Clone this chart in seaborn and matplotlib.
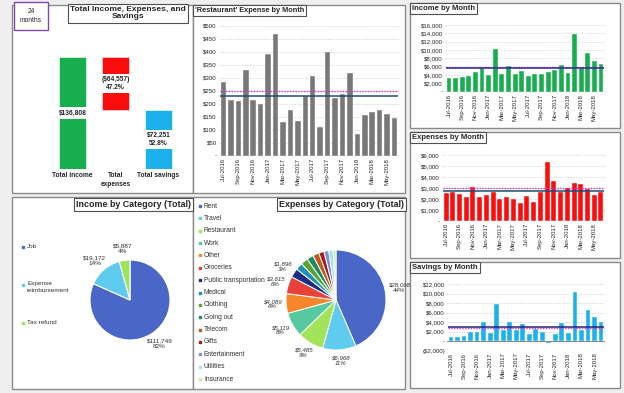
import numpy as np
import pandas as pd
import matplotlib
matplotlib.use("Agg")
import matplotlib.pyplot as plt
from matplotlib.patches import Rectangle
from matplotlib.lines import Line2D
import seaborn as sns

# ---------------- data ----------------
months = ["Jul-2016", "Aug-2016", "Sep-2016", "Oct-2016", "Nov-2016", "Dec-2016",
          "Jan-2017", "Feb-2017", "Mar-2017", "Apr-2017", "May-2017", "Jun-2017",
          "Jul-2017", "Aug-2017", "Sep-2017", "Oct-2017", "Nov-2017", "Dec-2017",
          "Jan-2018", "Feb-2018", "Mar-2018", "Apr-2018", "May-2018", "Jun-2018"]

restaurant = [285, 213, 210, 330, 215, 200, 390, 468, 130, 175, 133, 230,
              305, 112, 398, 222, 237, 318, 85, 155, 168, 175, 162, 145]
income = [3250, 3300, 3450, 3850, 4750, 5800, 3900, 10200, 4350, 6200, 4250, 5050,
          3750, 4200, 4300, 4800, 5100, 6450, 4600, 13850, 5800, 9350, 7400, 6550]
expenses = [2550, 2600, 2450, 2150, 3050, 2150, 2400, 2600, 2000, 2150, 2000, 1650,
            2270, 1700, 2600, 5330, 3670, 2600, 3030, 3480, 3330, 2880, 2360, 2640]
savings = [850, 850, 1100, 1800, 1800, 4000, 1700, 7700, 2300, 4100, 2250, 3500,
           1500, 2500, 1900, -350, 1500, 3800, 1600, 10400, 2300, 6600, 5150, 3950]

avg_restaurant, budget_restaurant = 228, 250
avg_income, budget_income = 5700, 5850
avg_expenses, budget_expenses = 2690, 3000
avg_savings, budget_savings = 3010, 2800

total_labels = ["Total income", "Total\nexpenses", "Total savings"]
total_income, total_expenses, total_savings = 136808, 64557, 72251

income_cats = ["Job", "Expense\nreimbursement", "Tax refund"]
income_vals = [111749, 19172, 5887]
income_pct = ["82%", "14%", "4%"]

exp_cats = ["Rent", "Travel", "Restaurant", "Work", "Other", "Groceries",
            "Public transportation", "Medical", "Clothing", "Going out", "Telecom",
            "Gifts", "Entertainment", "Utilities", "Insurance"]
exp_vals = [28068, 6968, 5485, 5119, 4089, 3615, 1896, 1500, 1500, 1400, 1300,
            1100, 1000, 900, 600]
exp_pct = ["44%", "11%", "9%", "8%", "6%", "6%", "3%"]

# ---------------- style ----------------
sns.set_theme(style="white")
plt.rcParams["font.family"] = ["Liberation Sans", "DejaVu Sans"]

W, H = 624, 393
fig = plt.figure(figsize=(W / 100, H / 100), dpi=100)
fig.patch.set_facecolor("#efefef")


def px(x0, y0, x1, y1):
    return [x0 / W, 1 - y1 / H, (x1 - x0) / W, (y1 - y0) / H]


def fx(x):
    return x / W


def fy(y):
    return 1 - y / H


panels = {}
for key, (x0, y0, x1, y1) in {
    "tot": (12, 5, 193, 193), "rest": (193, 5, 405, 193),
    "inc": (410, 3, 620, 128), "exp": (410, 132, 620, 258),
    "sav": (410, 262, 620, 388), "icat": (12, 197, 193, 389),
    "ecat": (193, 197, 405, 389)}.items():
    r = Rectangle((fx(x0), fy(y1)), (x1 - x0) / W, (y1 - y0) / H,
                  transform=fig.transFigure, fc="white", ec="#8a8a8a", lw=1.0,
                  zorder=-5)
    fig.patches.append(r)
    panels[key] = r


def title_box(x, y, text, size, ha="left"):
    fig.text(fx(x), fy(y), text, fontsize=size, fontweight="bold", ha=ha, va="top",
             linespacing=1.1, zorder=10,
             bbox=dict(boxstyle="square,pad=0.25", fc="white", ec="#505050", lw=0.8))


def money(v):
    if v == 0:
        return "-"
    if v < 0:
        return f"(${-v:,.0f})"
    return f"${v:,.0f}"


def month_bars(rect, values, color, ylim, yticks, avg, budget, avg_color):
    ax = fig.add_axes(px(*rect))
    df = pd.DataFrame({"month": months, "value": values})
    sns.barplot(data=df, x="month", y="value", color=color, saturation=1,
                width=0.74, edgecolor="white", linewidth=0.3, ax=ax, zorder=2)
    ax.set_facecolor("none")
    ax.set_ylim(*ylim)
    ax.set_xlim(-0.6, 23.6)
    ax.set_yticks(yticks)
    ax.set_yticklabels([money(v) for v in yticks], fontsize=4.4)
    ax.set_xticks(range(0, 24, 2))
    ax.set_xticklabels(months[::2], rotation=90, fontsize=4.3)
    ax.tick_params(length=0, pad=1.5)
    ax.set_xlabel("")
    ax.set_ylabel("")
    for s in ax.spines.values():
        s.set_visible(False)
    for t in yticks:
        if t != 0:
            ax.axhline(t, color="#c8c8c8", lw=0.5, ls=(0, (2, 2)), zorder=1)
    ax.axhline(0, color="#8a8a8a", lw=0.8, zorder=3)
    ax.hlines(budget, -0.45, 23.45, color="#cc33cc", lw=1.0, ls=(0, (1, 1)), zorder=4)
    ax.hlines(avg, -0.45, 23.45, color=avg_color, lw=1.1, zorder=5)
    return ax


# ---------------- totals panel ----------------
ax = fig.add_axes(px(51, 38, 180, 169))
df_tot = pd.DataFrame({"label": total_labels,
                       "value": [total_income, total_expenses, total_savings]})
bottoms = [0, total_income - total_expenses, 0]
ax.bar(range(3), df_tot["value"], bottom=bottoms, width=0.63,
       color=["#17ae4f", "#fb0d0d", "#1cb1ec"], edgecolor="white", lw=0.4)
ax.set_xlim(-0.5, 2.5)
ax.set_ylim(0, 160000)
ax.set_facecolor("none")
for s in ax.spines.values():
    s.set_visible(False)
ax.axhline(0, color="#d0d0d0", lw=0.8)
ax.set_yticks([])
ax.set_xticks(range(3))
ax.set_xticklabels(total_labels, fontsize=4.8, fontweight="bold", linespacing=1.3)
ax.tick_params(length=0, pad=2.5)
lab_box = dict(boxstyle="square,pad=0.35", fc="white", ec="none")
ax.text(0, total_income / 2, money(total_income), ha="center", va="center",
        fontsize=4.8, fontweight="bold", bbox=lab_box)
ax.text(1, total_income - total_expenses / 2,
        f"({money(total_expenses)})\n{total_expenses / total_income * 100:.1f}%",
        ha="center", va="center", fontsize=4.8, fontweight="bold", bbox=lab_box,
        linespacing=1.1)
ax.text(2, total_savings / 2,
        f"{money(total_savings)}\n{total_savings / total_income * 100:.1f}%",
        ha="center", va="center", fontsize=4.8, fontweight="bold", bbox=lab_box,
        linespacing=1.1)

fig.text(fx(31), fy(16), "24\nmonths", fontsize=4.8, ha="center", va="center",
         linespacing=1.3,
         bbox=dict(boxstyle="square,pad=0.9", fc="white", ec="#7a4aa8", lw=1.0))
title_box(128, 6, "Total Income, Expenses, and\nSavings", 6.0, ha="center")

# ---------------- monthly bar charts ----------------
month_bars((219, 25.7, 399, 155.7), restaurant, "#787878", (0, 500),
           list(range(0, 501, 50)), avg_restaurant, budget_restaurant, "#1f4e6e")
title_box(195, 7, "'Restaurant' Expense by Month", 5.3)

month_bars((445, 25, 605, 91.7), income, "#17ae4f", (0, 16000),
           list(range(0, 16001, 2000)), avg_income, budget_income, "#2e2a9a")
title_box(412, 5, "Income by Month", 5.5)

month_bars((442, 155, 605, 221), expenses, "#fb0d0d", (0, 6000),
           list(range(0, 6001, 1000)), avg_expenses, budget_expenses, "#1f4e6e")
title_box(412, 134, "Expenses by Month", 5.5)

month_bars((447, 284, 605, 350.5), savings, "#1cb1ec", (-2000, 12000),
           list(range(-2000, 12001, 2000)), avg_savings, budget_savings, "#2e1f7a")
title_box(412, 264, "Savings by Month", 5.5)

# ---------------- income pie ----------------
inc_colors = ["#4a66c6", "#5ecbef", "#9ee35a"]
ax = fig.add_axes(px(90, 260, 170, 340))
wedges, _ = ax.pie(income_vals, colors=inc_colors, startangle=90, counterclock=False,
                   wedgeprops=dict(edgecolor="white", linewidth=0.8))
ax.set_xlim(-1, 1)
ax.set_ylim(-1, 1)
ax.set_aspect("equal")
for w, v, p in zip(wedges, income_vals, income_pct):
    ang = np.deg2rad((w.theta1 + w.theta2) / 2)
    ax.text(1.35 * np.cos(ang), 1.3 * np.sin(ang), f"{money(v)}\n{p}",
            ha="center", va="center", fontsize=4.6, linespacing=1.1, color="#333333")
for i, (name, c) in enumerate(zip(income_cats, inc_colors)):
    y = 247 + i * 38
    fig.add_artist(Line2D([fx(23)], [fy(y)], marker="s", ms=1.6, color=c, lw=0,
                          transform=fig.transFigure))
    fig.text(fx(27), fy(y - 3.5), name, fontsize=4.6, va="top", linespacing=1.25,
             color="#333333")
title_box(191, 200, "Income by Category (Total)", 6.4, ha="right")

# ---------------- expenses pie ----------------
exp_colors = ["#4a66c6", "#5ecbef", "#a3e35a", "#56c9a1", "#f7862b", "#e9413a",
              "#1f2d7e", "#1e90b5", "#5aa42d", "#1f8a66", "#c2581c", "#a51c1c",
              "#7c90d8", "#9fe2f6", "#c9ee9c"]
ax = fig.add_axes(px(286, 250, 386, 350))
wedges, _ = ax.pie(exp_vals, colors=exp_colors, startangle=90, counterclock=False,
                   wedgeprops=dict(edgecolor="white", linewidth=0.7))
ax.set_xlim(-1, 1)
ax.set_ylim(-1, 1)
ax.set_aspect("equal")
for w, v, p in zip(wedges[:len(exp_pct)], exp_vals, exp_pct):
    ang = np.deg2rad((w.theta1 + w.theta2) / 2)
    t = ax.text(1.28 * np.cos(ang), 1.22 * np.sin(ang), f"{money(v)}\n{p}",
                ha="center", va="center", fontsize=4.4, style="italic",
                linespacing=1.1, color="#333333")
for i, (name, c) in enumerate(zip(exp_cats, exp_colors)):
    y = 206 + i * 12.36
    fig.add_artist(Line2D([fx(200)], [fy(y)], marker="s", ms=1.6, color=c, lw=0,
                          transform=fig.transFigure))
    fig.text(fx(204), fy(y), name, fontsize=4.8, va="center", color="#333333")
title_box(404, 200, "Expenses by Category (Total)", 6.4, ha="right")

fig.savefig("out.png", dpi=100, facecolor=fig.get_facecolor())
